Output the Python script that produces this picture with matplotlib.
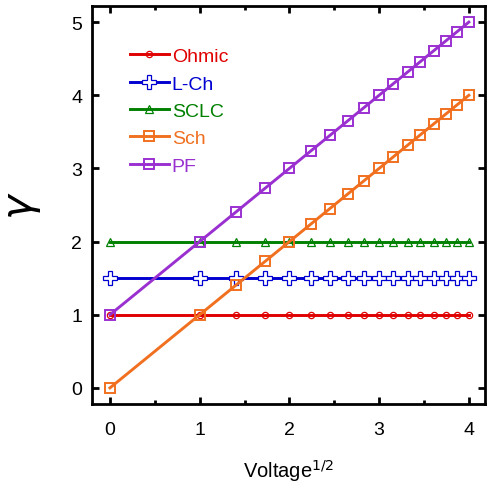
import matplotlib.pyplot as plt
from matplotlib.ticker import MultipleLocator

plt.rcParams['font.family'] = ['Liberation Sans', 'DejaVu Sans']

# sqrt(V) for V = 0..16
x = [0, 1, 1.41, 1.73, 2, 2.24, 2.45, 2.65, 2.83, 3, 3.16, 3.32, 3.46, 3.61, 3.74, 3.87, 4]
ohmic = [1] * 17
lch = [1.5] * 17
sclc = [2] * 17
sch = [0, 1, 1.41, 1.73, 2, 2.24, 2.45, 2.65, 2.83, 3, 3.16, 3.32, 3.46, 3.61, 3.74, 3.87, 4]
pf = [1, 2, 2.41, 2.73, 3, 3.24, 3.45, 3.65, 3.83, 4, 4.16, 4.32, 4.46, 4.61, 4.74, 4.87, 5]

RED = '#E00000'
BLUE = '#0000D0'
GREEN = '#008000'
ORANGE = '#F07020'
PURPLE = '#9A30D0'

fig = plt.figure(figsize=(4.87, 4.85), dpi=100)
ax = fig.add_axes([92/487, 80/485, 393/487, 398/485])

ax.plot(x, ohmic, color=RED, lw=2.1, marker='o', ms=4.5, mfc='none', mew=0.9, label='Ohmic')
ax.plot(x, lch, color=BLUE, lw=2.1, marker='P', ms=9.5, mfc='white', mew=0.9, label='L-Ch')
ax.plot(x, sclc, color=GREEN, lw=2.1, marker='^', ms=6, mfc='none', mew=0.9, label='SCLC')
ax.plot(x, sch, color=ORANGE, lw=2.1, marker='s', ms=6.5, mfc='none', mew=1.4, label='Sch')
ax.plot(x, pf, color=PURPLE, lw=2.1, marker='s', ms=6.5, mfc='none', mew=1.4, label='PF')

ax.set_xlim(-0.2, 4.18)
ax.set_ylim(-0.22, 5.22)
ax.xaxis.set_major_locator(MultipleLocator(1))
ax.xaxis.set_minor_locator(MultipleLocator(0.5))
ax.yaxis.set_major_locator(MultipleLocator(1))
ax.tick_params(which='both', direction='in', top=True, right=True, labelsize=14, width=2)
ax.tick_params(which='major', length=5)
ax.tick_params(axis='x', which='major', pad=12)
ax.tick_params(axis='y', which='major', pad=7)
ax.tick_params(which='minor', length=3)
for s in ax.spines.values():
    s.set_linewidth(2)

ax.set_xlabel('Voltage$^{1/2}$', fontsize=14.5, labelpad=14)
ax.set_ylabel(r'$\gamma$', fontsize=30, labelpad=20)

leg = ax.legend(loc='upper left', bbox_to_anchor=(0.077, 0.915), frameon=False, fontsize=14,
                handlelength=2.0, handletextpad=0.15, labelspacing=0.5, borderaxespad=0)
for t, c in zip(leg.get_texts(), [RED, BLUE, GREEN, ORANGE, PURPLE]):
    t.set_color(c)

fig.savefig('out.png', dpi=100)
